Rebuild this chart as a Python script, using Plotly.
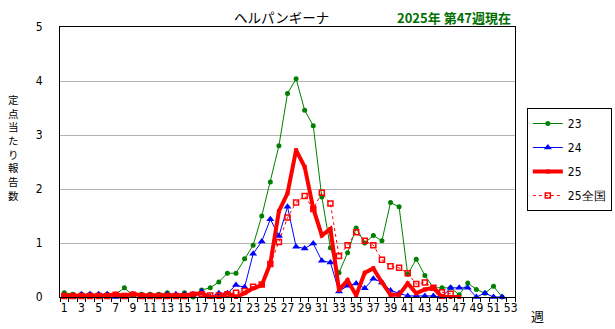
import plotly.graph_objects as go

# Weekly sentinel reports per site (herpangina)
weeks = list(range(1, 54))
odd_week_labels = [str(w) for w in range(1, 54, 2)]

y2023 = [0.08, 0.05, 0.05, 0.05, 0.05, 0.05, 0.05, 0.17, 0.03, 0.05,
         0.05, 0.05, 0.08, 0.03, 0.08, 0.00, 0.13, 0.17, 0.28, 0.44,
         0.44, 0.71, 0.96, 1.50, 2.13, 2.80, 3.77, 4.04, 3.46, 3.17,
         1.85, 0.91, 0.45, 0.82, 1.28, 1.00, 1.14, 1.04, 1.75, 1.67,
         0.42, 0.70, 0.40, 0.17, 0.17, 0.17, 0.04, 0.26, 0.14, 0.07,
         0.20, 0.00]
y2024 = [0.02, 0.00, 0.05, 0.05, 0.05, 0.05, 0.00, 0.00, 0.05, 0.00,
         0.03, 0.03, 0.05, 0.05, 0.05, 0.05, 0.10, 0.00, 0.07, 0.07,
         0.22, 0.18, 0.80, 1.03, 1.44, 1.13, 1.67, 0.93, 0.90, 0.99,
         0.67, 0.64, 0.10, 0.21, 0.25, 0.16, 0.34, 0.27, 0.12, 0.07,
         0.02, 0.02, 0.02, 0.02, 0.00, 0.17, 0.17, 0.17, 0.00, 0.07,
         0.00, 0.00]
y2025 = [0.02, 0.02, 0.03, 0.03, 0.03, 0.03, 0.05, 0.02, 0.06, 0.03,
         0.03, 0.03, 0.03, 0.03, 0.03, 0.05, 0.07, 0.00, 0.00, 0.07,
         0.00, 0.07, 0.16, 0.22, 0.62, 1.59, 1.92, 2.72, 2.41, 1.64,
         1.14, 1.26, 0.13, 0.31, 0.03, 0.45, 0.53, 0.27, 0.04, 0.04,
         0.25, 0.07, 0.14, 0.17, 0.00, 0.00, 0.00]
y2025_nat = [0.02, 0.02, 0.02, 0.02, 0.02, 0.02, 0.04, 0.02, 0.04, 0.02,
             0.02, 0.02, 0.02, 0.02, 0.02, 0.04, 0.05, 0.03, 0.03, 0.05,
             0.08, 0.11, 0.19, 0.23, 0.61, 1.02, 1.47, 1.75, 1.87, 1.63,
             1.93, 1.73, 0.76, 0.96, 1.20, 1.04, 0.96, 0.69, 0.57, 0.54,
             0.44, 0.24, 0.27, 0.17, 0.09, 0.06]

GREEN = "#008000"
BLUE = "#0000FF"
RED = "#FF0000"
NUM_FONT = "Liberation Sans Narrow, DejaVu Sans Condensed, Arial Narrow, sans-serif"
JP_FONT = "Noto Sans CJK JP, sans-serif"

fig = go.Figure()
fig.add_trace(go.Scatter(
    x=weeks[:len(y2023)], y=y2023, name="23", mode="lines+markers",
    line=dict(color=GREEN, width=1),
    marker=dict(symbol="circle", size=5, color=GREEN),
    legendgroup="a", cliponaxis=False))
fig.add_trace(go.Scatter(
    x=weeks[:len(y2024)], y=y2024, name="24", mode="lines+markers",
    line=dict(color=BLUE, width=1),
    marker=dict(symbol="triangle-up", size=7, color=BLUE),
    legendgroup="b", cliponaxis=False))
fig.add_trace(go.Scatter(
    x=weeks[:len(y2025)], y=y2025, name="25", mode="lines+markers",
    line=dict(color=RED, width=4),
    marker=dict(symbol="square", size=4, color=RED),
    legendgroup="c", cliponaxis=False))
fig.add_trace(go.Scatter(
    x=weeks[:len(y2025_nat)], y=y2025_nat, name="25全国", mode="lines+markers",
    line=dict(color=RED, width=1, dash="dot"),
    marker=dict(symbol="square-open", size=5, color=RED,
                line=dict(width=1.5, color=RED)),
    legendgroup="d", cliponaxis=False))

# Invisible helper trace so a second x-axis can carry the boundary ticks
fig.add_trace(go.Scatter(x=[0.5, 53.5], y=[0, 0], xaxis="x2", mode="lines",
                         line=dict(width=0), showlegend=False, hoverinfo="skip"))

fig.update_layout(
    width=615, height=329,
    margin=dict(l=60, r=100, t=27, b=32, autoexpand=False),
    paper_bgcolor="white", plot_bgcolor="white",
    font=dict(family=NUM_FONT, size=12, color="black"),
    showlegend=True,
    legend=dict(
        x=1.026, y=0.70, xanchor="left", yanchor="top",
        bordercolor="black", borderwidth=1, bgcolor="white",
        font=dict(family=NUM_FONT, size=12),
        traceorder="grouped", tracegroupgap=5,
        itemwidth=30,
    ),
    xaxis=dict(
        range=[0.5, 53.5], tickmode="array",
        tickvals=list(range(1, 54, 2)), ticktext=odd_week_labels,
        ticks="", showgrid=False, zeroline=False,
        showline=True, linecolor="black", linewidth=1, mirror=True,
        tickfont=dict(family=NUM_FONT, size=12),
    ),
    xaxis2=dict(
        range=[0.5, 53.5], overlaying="x", side="bottom",
        tickmode="array", tickvals=[w + 0.5 for w in range(0, 54)],
        ticks="outside", ticklen=4, tickcolor="black",
        showticklabels=False, showgrid=False, zeroline=False, showline=False,
    ),
    yaxis=dict(
        range=[0, 5], tickmode="array", tickvals=[0, 1, 2, 3, 4, 5],
        showgrid=True, gridcolor="#b4b4b4", gridwidth=1,
        zeroline=False, showline=True, linecolor="black", linewidth=1,
        mirror=True, ticks="", ticklabelstandoff=14,
        tickfont=dict(family=NUM_FONT, size=12),
    ),
)

annotations = [
    dict(text="ヘルパンギーナ", x=281, y=17, font=dict(family=JP_FONT, size=13.5)),
    dict(text="<b>2025年 第47週現在</b>", x=454, y=17,
         font=dict(family=JP_FONT, size=13, color="#007000")),
    dict(text="週", x=537, y=315, font=dict(family=JP_FONT, size=13)),
    dict(text="<br>".join("定点当たり報告数"), x=13, y=147,
         font=dict(family=JP_FONT, size=10.5)),
]

fig.update_layout(annotations=[
    dict(a, xref="paper", yref="paper",
         x=(a["x"] - 60) / 455, y=(297 - a["y"]) / 270,
         xanchor="center", yanchor="middle", showarrow=False)
    for a in annotations
])

fig.write_html("out.html")
